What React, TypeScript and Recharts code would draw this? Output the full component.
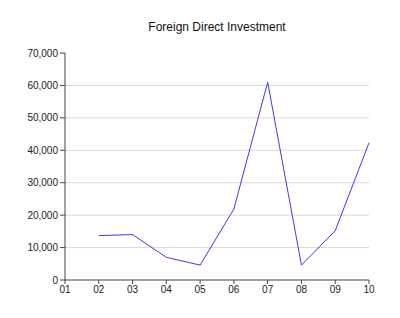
import React from "react";
import { LineChart, Line, XAxis, YAxis, CartesianGrid } from "recharts";

const years = ["01", "02", "03", "04", "05", "06", "07", "08", "09", "10"];
const fdi: (number | null)[] = [null, 13700, 14000, 7000, 4600, 21900, 61000, 4600, 15200, 42300];
const yTicks = [0, 10000, 20000, 30000, 40000, 50000, 60000, 70000];
const gridValues = [10000, 20000, 30000, 40000, 50000, 60000];

const data = years.map((y, i) => ({ year: y, value: fdi[i] }));

export default function App() {
  return (
    <div style={{ position: "absolute", left: 0, top: 0, width: 400, height: 318, background: "#fff" }}>
      <div
        style={{
          position: "absolute",
          left: 65,
          width: 304,
          top: 20,
          textAlign: "center",
          fontFamily: "'Liberation Sans', Arial, sans-serif",
          fontSize: 12,
          color: "#111",
        }}
      >
        Foreign Direct Investment
      </div>
      <LineChart width={400} height={318} data={data} margin={{ top: 53, right: 31, bottom: 8, left: 0 }}>
        <CartesianGrid vertical={false} horizontalValues={gridValues} stroke="#d9d9d9" />
        <XAxis
          dataKey="year"
          height={30}
          stroke="#444"
          tickSize={4}
          tickMargin={2}
          tick={{ fontSize: 10, fill: "#222", fontFamily: "'Liberation Sans', Arial, sans-serif" }}
          interval={0}
        />
        <YAxis
          width={65}
          domain={[0, 70000]}
          ticks={yTicks}
          stroke="#444"
          tickSize={5}
          tickMargin={2}
          interval={0}
          tickFormatter={(v: number) => v.toLocaleString("en-US")}
          tick={{ fontSize: 10, fill: "#222", fontFamily: "'Liberation Sans', Arial, sans-serif" }}
        />
        <Line
          dataKey="value"
          stroke="#3a3aee"
          strokeWidth={1}
          dot={false}
          isAnimationActive={false}
        />
      </LineChart>
    </div>
  );
}
